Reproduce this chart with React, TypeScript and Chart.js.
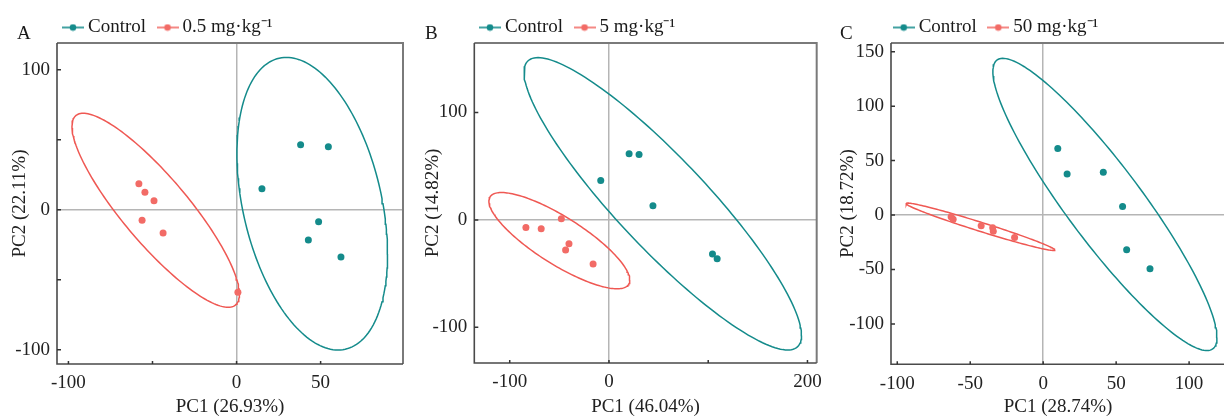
import React, { useEffect, useRef } from 'react';
import { Chart, registerables } from 'chart.js';

Chart.register(...registerables);

const FONT = "'Liberation Serif', 'Times New Roman', Times, serif";
const TEAL = '#148b8b';
const RED_LINE = '#ef5853';
const RED_PT = '#f26b66';

// ---------- Panel A (0.5 mg·kg-1) ----------
const aControlX = [38.1, 54.6, 15.1, 48.8, 42.7, 62.1];
const aControlY = [46.4, 45.0, 15.0, -8.6, -21.6, -33.8];
const aTreatX = [-58.1, -54.5, -49.1, -56.2, -43.7, 0.8];
const aTreatY = [18.6, 12.4, 6.4, -7.6, -16.6, -59.0];
// ellipse: [centerX, centerY, radiusX, radiusY, correlation]
const aControlEllipse = [45.0, 4.3, 44.8, 104.5, -0.343];
const aTreatEllipse = [-48.1, -0.4, 49.8, 69.3, -0.865];
const aXRange = [-106.8, 99.0];
const aYRange = [-110.2, 119.1];
const aXTicks = [-100, -50, 0, 50];
const aXLabels = [-100, 0, 50];
const aYTicks = [-100, -50, 0, 50, 100];
const aYLabels = [-100, 0, 100];

// ---------- Panel B (5 mg·kg-1) ----------
const bControlX = [-8.3, 20.3, 30.3, 44.3, 104.3, 109.0];
const bControlY = [36.7, 61.5, 60.9, 13.1, -31.8, -36.2];
const bTreatX = [-83.7, -68.3, -48.0, -40.3, -43.7, -16.0];
const bTreatY = [-7.0, -8.3, 1.0, -22.2, -28.1, -41.1];
const bControlEllipse = [54.2, 15.0, 139.8, 136.1, -0.9];
const bTreatEllipse = [-50.0, -19.3, 71.0, 44.8, -0.82];
const bXRange = [-135.7, 209.3];
const bYRange = [-133.2, 164.7];
const bXTicks = [-100, 0, 100, 200];
const bXLabels = [-100, 0, 200];
const bYTicks = [-100, 0, 100];
const bYLabels = [-100, 0, 100];

// ---------- Panel C (50 mg·kg-1) ----------
const cControlX = [10.0, 16.4, 41.2, 54.4, 57.2, 73.2];
const cControlY = [61.0, 37.7, 39.2, 7.9, -31.9, -49.4];
const cTreatX = [-63.1, -61.7, -42.5, -34.6, -34.2, -19.6];
const cTreatY = [-1.6, -3.9, -9.8, -11.7, -14.9, -20.6];
const cControlEllipse = [42.3, 9.7, 76.8, 134.2, -0.91];
const cTreatEllipse = [-43.0, -10.8, 51.0, 21.8, -0.98];
const cXRange = [-104.3, 124.6];
const cYRange = [-137.1, 158.0];
const cXTicks = [-100, -50, 0, 50, 100];
const cXLabels = [-100, -50, 0, 50, 100];
const cYTicks = [-100, -50, 0, 50, 100, 150];
const cYLabels = [-100, -50, 0, 50, 100, 150];

const controlLabel = 'Control';
const treatLabels = ['0.5 mg·kg⁻¹', '5 mg·kg⁻¹', '50 mg·kg⁻¹'];
const letters = ['A', 'B', 'C'];
const xTitles = ['PC1 (26.93%)', 'PC1 (46.04%)', 'PC1 (28.74%)'];
const yTitles = ['PC2 (22.11%)', 'PC2 (14.82%)', 'PC2 (18.72%)'];

const toPoints = (xs: number[], ys: number[]) => xs.map((x, i) => ({ x, y: ys[i] }));

function ellipsePoints(e: number[]) {
  const [cx, cy, rx, ry, rho] = e;
  const s = Math.sqrt(1 - rho * rho);
  const pts: { x: number; y: number }[] = [];
  const n = 180;
  for (let i = 0; i <= n; i++) {
    const t = (i / n) * Math.PI * 2;
    pts.push({ x: cx + rx * Math.cos(t), y: cy + ry * (rho * Math.cos(t) + s * Math.sin(t)) });
  }
  return pts;
}

const panels = [
  {
    ctrl: toPoints(aControlX, aControlY), trt: toPoints(aTreatX, aTreatY),
    ctrlE: aControlEllipse, trtE: aTreatEllipse, xr: aXRange, yr: aYRange,
    xt: aXTicks, xl: aXLabels, yt: aYTicks, yl: aYLabels,
  },
  {
    ctrl: toPoints(bControlX, bControlY), trt: toPoints(bTreatX, bTreatY),
    ctrlE: bControlEllipse, trtE: bTreatEllipse, xr: bXRange, yr: bYRange,
    xt: bXTicks, xl: bXLabels, yt: bYTicks, yl: bYLabels,
  },
  {
    ctrl: toPoints(cControlX, cControlY), trt: toPoints(cTreatX, cTreatY),
    ctrlE: cControlEllipse, trtE: cTreatEllipse, xr: cXRange, yr: cYRange,
    xt: cXTicks, xl: cXLabels, yt: cYTicks, yl: cYLabels,
  },
];

// layout (pixels, relative to each canvas)
const layouts = [
  { left: 0, w: 410, padR: 7, yW: 57, xH: 53, yTitlePad: 8.6, legendLeft: 51.5, letterX: 17 },
  { left: 410, w: 420, padR: 10.7, yW: 64.3, xH: 54, yTitlePad: 11.6, legendLeft: 58.5, letterX: 15 },
  { left: 822, w: 410, padR: 7, yW: 69, xH: 52.7, yTitlePad: 14.6, legendLeft: 60.2, letterX: 18 },
];
const LEGEND_SHIFT_Y = 2;

function makeMarker(color: string) {
  const c = document.createElement('canvas');
  c.width = 22;
  c.height = 8;
  const g = c.getContext('2d')!;
  g.strokeStyle = color;
  g.lineWidth = 1.6;
  g.beginPath();
  g.moveTo(0, 4);
  g.lineTo(22, 4);
  g.stroke();
  g.fillStyle = color;
  g.beginPath();
  g.arc(11, 4, 3.3, 0, Math.PI * 2);
  g.fill();
  return c;
}

function Panel({ idx }: { idx: number }) {
  const ref = useRef<HTMLCanvasElement>(null);
  const p = panels[idx];
  const lay = layouts[idx];
  useEffect(() => {
    const canvas = ref.current!;
    const markers = [makeMarker(TEAL), makeMarker(RED_PT)];
    const decor = {
      id: 'decor',
      afterLayout(chart: any) {
        const lg = chart.legend;
        if (lg) {
          const w = lg.right - lg.left;
          lg.left = lay.legendLeft;
          lg.right = lay.legendLeft + w;
          lg.top += LEGEND_SHIFT_Y;
          lg.bottom += LEGEND_SHIFT_Y;
        }
      },
      afterDraw(chart: any) {
        const { ctx, chartArea } = chart;
        const xs = chart.scales.x;
        const ys = chart.scales.y;
        ctx.save();
        // frame
        ctx.strokeStyle = '#7a7a7a';
        ctx.lineWidth = 2;
        ctx.beginPath();
        ctx.moveTo(chartArea.left, chartArea.top);
        ctx.lineTo(chartArea.right, chartArea.top);
        ctx.lineTo(chartArea.right, chartArea.bottom);
        ctx.stroke();
        ctx.strokeStyle = '#4a4a4a';
        ctx.lineWidth = 1.6;
        ctx.beginPath();
        ctx.moveTo(chartArea.left, chartArea.top);
        ctx.lineTo(chartArea.left, chartArea.bottom);
        ctx.lineTo(chartArea.right, chartArea.bottom);
        ctx.stroke();
        // inward ticks
        ctx.strokeStyle = '#333';
        ctx.lineWidth = 1.5;
        ctx.beginPath();
        for (const v of p.xt) {
          const px = xs.getPixelForValue(v);
          ctx.moveTo(px, chartArea.bottom);
          ctx.lineTo(px, chartArea.bottom - 3);
        }
        for (const v of p.yt) {
          const py = ys.getPixelForValue(v);
          ctx.moveTo(chartArea.left, py);
          ctx.lineTo(chartArea.left + 4, py);
        }
        ctx.stroke();
        // panel letter
        ctx.fillStyle = '#1a1a1a';
        ctx.font = `19px ${FONT}`;
        ctx.textBaseline = 'alphabetic';
        ctx.textAlign = 'left';
        ctx.fillText(letters[idx], lay.letterX, 39);
        ctx.restore();
      },
    };
    const zeroGrid = (c: any) => (c.tick && c.tick.value === 0 ? '#b5b5b5' : 'rgba(0,0,0,0)');
    const chart = new Chart(canvas, {
      type: 'scatter',
      data: {
        datasets: [
          { label: controlLabel, data: p.ctrl, backgroundColor: TEAL, borderWidth: 0, pointRadius: 3.5 },
          { label: treatLabels[idx], data: p.trt, backgroundColor: RED_PT, borderWidth: 0, pointRadius: 3.5 },
          { label: 'ctrl-ellipse', data: ellipsePoints(p.ctrlE), showLine: true, borderColor: TEAL, borderWidth: 1.5, pointRadius: 0, fill: false, tension: 0 },
          { label: 'trt-ellipse', data: ellipsePoints(p.trtE), showLine: true, borderColor: RED_LINE, borderWidth: 1.5, pointRadius: 0, fill: false, tension: 0 },
        ] as any,
      },
      options: {
        responsive: false,
        animation: false,
        events: [],
        layout: { padding: { left: 0, right: lay.padR, top: 0, bottom: 0 } },
        plugins: {
          tooltip: { enabled: false },
          legend: {
            display: true,
            position: 'top',
            align: 'start',
            maxHeight: 43,
            labels: {
              usePointStyle: true,
              pointStyleWidth: 11,
              padding: 16,
              color: '#1a1a1a',
              font: { family: FONT, size: 19 },
              generateLabels: (ch: any) =>
                ch.data.datasets.slice(0, 2).map((ds: any, i: number) => ({
                  text: ds.label,
                  pointStyle: markers[i],
                  fillStyle: i === 0 ? TEAL : RED_PT,
                  strokeStyle: i === 0 ? TEAL : RED_PT,
                  lineWidth: 0,
                  hidden: false,
                  datasetIndex: i,
                  fontColor: '#1a1a1a',
                })),
            },
          },
        },
        scales: {
          x: {
            type: 'linear',
            min: p.xr[0],
            max: p.xr[1],
            afterBuildTicks: (s: any) => { s.ticks = p.xt.map((v) => ({ value: v })); },
            afterFit: (s: any) => { s.height = lay.xH; },
            grid: { color: zeroGrid, lineWidth: 1.5, drawTicks: false },
            border: { display: false },
            ticks: {
              padding: 8,
              color: '#222',
              font: { family: FONT, size: 19 },
              maxRotation: 0,
              autoSkip: false,
              callback: (v: any) => (p.xl.includes(Number(v)) ? String(v) : ''),
            },
            title: { display: true, text: xTitles[idx], color: '#222', font: { family: FONT, size: 19 }, padding: { top: 0, bottom: -1.4 } },
          },
          y: {
            type: 'linear',
            min: p.yr[0],
            max: p.yr[1],
            afterBuildTicks: (s: any) => { s.ticks = p.yt.map((v) => ({ value: v })); },
            afterFit: (s: any) => { s.width = lay.yW; },
            grid: { color: zeroGrid, lineWidth: 1.5, drawTicks: false },
            border: { display: false },
            ticks: {
              padding: 7,
              color: '#222',
              font: { family: FONT, size: 19 },
              autoSkip: false,
              callback: (v: any) => (p.yl.includes(Number(v)) ? String(v) : ''),
            },
            title: { display: true, text: yTitles[idx], color: '#222', font: { family: FONT, size: 19 }, padding: { top: lay.yTitlePad, bottom: 0 } },
          },
        },
      } as any,
      plugins: [decor],
    });
    return () => chart.destroy();
  }, []);
  return (
    <canvas
      ref={ref}
      width={lay.w}
      height={417}
      style={{ position: 'absolute', left: lay.left, top: 0, width: lay.w, height: 417 }}
    />
  );
}

export default function App() {
  return (
    <div style={{ position: 'fixed', left: 0, top: 0, width: 1224, height: 417, overflow: 'hidden', background: '#fff' }}>
      <Panel idx={0} />
      <Panel idx={1} />
      <Panel idx={2} />
    </div>
  );
}
